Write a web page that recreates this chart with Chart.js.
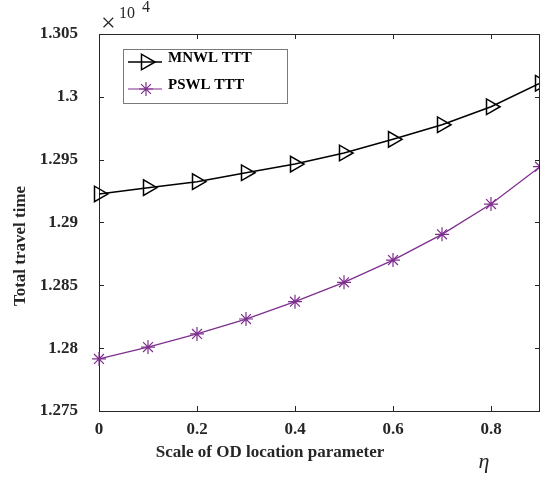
<!DOCTYPE html>
<html>
<head>
<meta charset="utf-8">
<script src="https://cdn.jsdelivr.net/npm/chart.js@4.4.1/dist/chart.umd.min.js"></script>
<style>
html,body{margin:0;padding:0;background:#fff;overflow:hidden;}
#wrap{width:540px;height:479px;}
</style>
</head>
<body>
<div id="wrap"><canvas id="c" width="540" height="479"></canvas></div>
<script>
// ---- data ----
const etaValues = [0, 0.1, 0.2, 0.3, 0.4, 0.5, 0.6, 0.7, 0.8, 0.9];
const mnwlTTT = [1.29227, 1.29277, 1.29325, 1.29396, 1.29465, 1.29553, 1.29662, 1.29778, 1.29921, 1.30108];
const pswlTTT = [1.27914, 1.28009, 1.28113, 1.28232, 1.28370, 1.28524, 1.28701, 1.28906, 1.29147, 1.29444];
const xTickValues = [0, 0.2, 0.4, 0.6, 0.8];
const yTickValues = [1.275, 1.28, 1.285, 1.29, 1.295, 1.3, 1.305];
const seriesNames = ['MNWL TTT', 'PSWL TTT'];
const xTitle = 'Scale of OD location parameter';
const yTitle = 'Total travel time';

const AX = '#262626';
const PURPLE = '#7E2F8E';
const SERIF = '"Liberation Serif", "Times New Roman", serif';

const decor = {
  id: 'decor',
  afterDraw(chart) {
    const ctx = chart.ctx, a = chart.chartArea;
    const xs = chart.scales.x, ys = chart.scales.y;
    ctx.save();
    // frame
    ctx.strokeStyle = AX; ctx.lineWidth = 1;
    ctx.beginPath();
    ctx.moveTo(a.left, a.top + 0.5); ctx.lineTo(a.right, a.top + 0.5);
    ctx.moveTo(a.right - 0.5, a.top); ctx.lineTo(a.right - 0.5, a.bottom);
    ctx.stroke();
    // inward ticks
    const tl = 5;
    ctx.beginPath();
    xTickValues.forEach(v => {
      const px = Math.round(xs.getPixelForValue(v)) + 0.5;
      ctx.moveTo(px, a.bottom); ctx.lineTo(px, a.bottom - tl);
      ctx.moveTo(px, a.top); ctx.lineTo(px, a.top + tl);
    });
    yTickValues.forEach(v => {
      const py = Math.round(ys.getPixelForValue(v)) + 0.5;
      ctx.moveTo(a.left, py); ctx.lineTo(a.left + tl, py);
      ctx.moveTo(a.right, py); ctx.lineTo(a.right - tl, py);
    });
    ctx.stroke();

    // legend
    const lx = 123.5, ly = 49.5, lw = 164, lh = 54;
    ctx.fillStyle = '#fff';
    ctx.fillRect(lx, ly, lw, lh);
    ctx.strokeStyle = '#7a7a7a'; ctx.lineWidth = 1;
    ctx.strokeRect(lx, ly, lw, lh);
    const rows = [
      {y: 62, color: '#000', style: 'triangle', rot: 90, r: 9, w: 1.5},
      {y: 89, color: PURPLE, style: 'star', rot: 0, r: 7, w: 1.2}
    ];
    rows.forEach((row, i) => {
      ctx.strokeStyle = row.color; ctx.lineWidth = row.w;
      ctx.beginPath(); ctx.moveTo(128, row.y); ctx.lineTo(162, row.y); ctx.stroke();
      ctx.fillStyle = 'rgba(0,0,0,0)';
      Chart.helpers.drawPoint(ctx, {pointStyle: row.style, rotation: row.rot, radius: row.r, borderWidth: row.w}, 146, row.y);
      ctx.fillStyle = '#000';
      ctx.font = 'bold 15px ' + SERIF;
      ctx.textAlign = 'left'; ctx.textBaseline = 'middle';
      ctx.fillText(seriesNames[i], 168, row.y - 4);
    });

    // axis titles
    ctx.fillStyle = AX;
    ctx.font = 'bold 17px ' + SERIF;
    ctx.textAlign = 'center'; ctx.textBaseline = 'middle';
    ctx.fillText(xTitle, 270, 453);
    ctx.save();
    ctx.translate(21, 246);
    ctx.rotate(-Math.PI / 2);
    ctx.fillText(yTitle, 0, 0);
    ctx.restore();
    // eta
    ctx.font = 'italic 22px ' + SERIF;
    ctx.fillText('\u03B7', 484, 462);
    // exponent
    ctx.textAlign = 'left'; ctx.textBaseline = 'alphabetic';
    ctx.font = '26px ' + SERIF;
    ctx.fillText('\u00D7', 101, 31);
    ctx.font = '16px ' + SERIF;
    ctx.fillText('10', 119, 18);
    ctx.fillText('4', 142, 12);
    ctx.restore();
  }
};

new Chart(document.getElementById('c'), {
  type: 'line',
  data: {
    datasets: [
      {
        label: seriesNames[0],
        data: etaValues.map((x, i) => ({x: x, y: mnwlTTT[i]})),
        borderColor: '#000', borderWidth: 1.5,
        pointStyle: 'triangle', pointRotation: 90, pointRadius: 9,
        pointBorderColor: '#000', pointBackgroundColor: 'rgba(0,0,0,0)', pointBorderWidth: 1.5,
        tension: 0
      },
      {
        label: seriesNames[1],
        data: etaValues.map((x, i) => ({x: x, y: pswlTTT[i]})),
        borderColor: PURPLE, borderWidth: 1.3,
        pointStyle: 'star', pointRadius: 7,
        pointBorderColor: PURPLE, pointBackgroundColor: 'rgba(0,0,0,0)', pointBorderWidth: 1.2,
        tension: 0
      }
    ]
  },
  options: {
    responsive: false,
    animation: false,
    devicePixelRatio: 1,
    clip: false,
    layout: {autoPadding: false, padding: {top: 34, right: -3, left: 0, bottom: 0}},
    plugins: {legend: {display: false}, tooltip: {enabled: false}},
    scales: {
      x: {
        type: 'linear', min: 0, max: 0.9,
        afterBuildTicks: s => { s.ticks = xTickValues.map(v => ({value: v})); },
        afterFit: s => { s.height = 68; },
        grid: {display: false, drawTicks: false},
        border: {display: true, color: AX, width: 1},
        ticks: {padding: 8, color: AX, font: {family: SERIF, size: 17, weight: 'bold'}, maxRotation: 0, callback: v => String(v)}
      },
      y: {
        type: 'linear', min: 1.275, max: 1.305,
        afterBuildTicks: s => { s.ticks = yTickValues.map(v => ({value: v})); },
        afterFit: s => { s.width = 99; },
        grid: {display: false, drawTicks: false},
        border: {display: true, color: AX, width: 1},
        ticks: {padding: 21, color: AX, font: {family: SERIF, size: 17, weight: 'bold'}, callback: v => String(Math.round(v * 1000) / 1000)}
      }
    }
  },
  plugins: [decor]
});
</script>
</body>
</html>
